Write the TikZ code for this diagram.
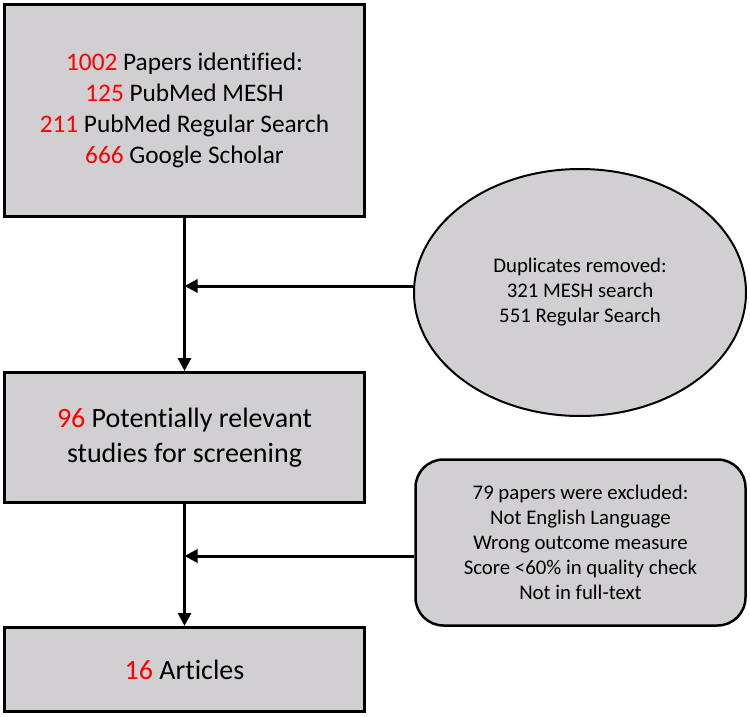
\documentclass[tikz,border=0pt]{standalone}
\usepackage{fontspec}
\setmainfont[RawFeature={-liga;-clig;-calt;-dlig}]{Carlito}
\usetikzlibrary{shapes.geometric,arrows.meta,calc}
\definecolor{boxgray}{RGB}{209,207,209}
\definecolor{numred}{RGB}{255,0,0}
\newcommand{\nr}[1]{\textcolor{numred}{#1}}
\tikzset{
  mainbox/.style={draw=black, line width=3pt, fill=boxgray, align=center, inner sep=0pt, minimum width=360pt},
  dupell/.style={ellipse, draw=black, line width=2pt, fill=boxgray, align=center, inner sep=0pt, minimum width=332pt, minimum height=247pt},
  exclbox/.style={draw=black, line width=2.5pt, fill=boxgray, align=center, inner sep=0pt, rounded corners=28pt, minimum width=330pt, minimum height=166pt},
  arr/.style={line width=3pt, -{Triangle[length=13pt,width=13pt]}},
  bigtext/.style={font=\fontsize{28}{35}\selectfont},
  midtext/.style={font=\fontsize{25.3}{31}\selectfont},
  smalltext/.style={font=\fontsize{20.8}{25}\selectfont}
}
\begin{document}
\begin{tikzpicture}[x=1pt,y=-1pt]
\useasboundingbox (0,0) rectangle (750,717);
\node[mainbox, midtext, minimum height=212pt] (b1) at (184.5,110.5)
  {\nr{1002} Papers identified:\\ \nr{125} PubMed MESH\\ \nr{211} PubMed Regular Search\\ \nr{666} Google Scholar};
\node[mainbox, bigtext, minimum height=130pt] (b2) at (184.5,437.5)
  {\nr{96} Potentially relevant\\ studies for screening};
\node[mainbox, bigtext, minimum height=84pt] (b3) at (184.5,669.5)
  {\nr{16} Articles};
\node[dupell, smalltext] (e) at (580,292.5)
  {Duplicates removed:\\ 321 MESH search\\ 551 Regular Search};
\node[exclbox, smalltext] (x) at (580.5,542.5)
  {79 papers were excluded:\\ Not English Language\\ Wrong outcome measure\\ Score <60\% in quality check\\ Not in full-text};
\draw[arr] (b1.south) -- (b2.north);
\draw[arr] (b2.south) -- (b3.north);
\coordinate (j1) at (b1.south |- 0,286);
\coordinate (j2) at (b2.south |- 0,556);
\draw[arr] (e.west |- j1) -- (j1);
\draw[arr] (x.west |- j2) -- (j2);
\end{tikzpicture}
\end{document}
